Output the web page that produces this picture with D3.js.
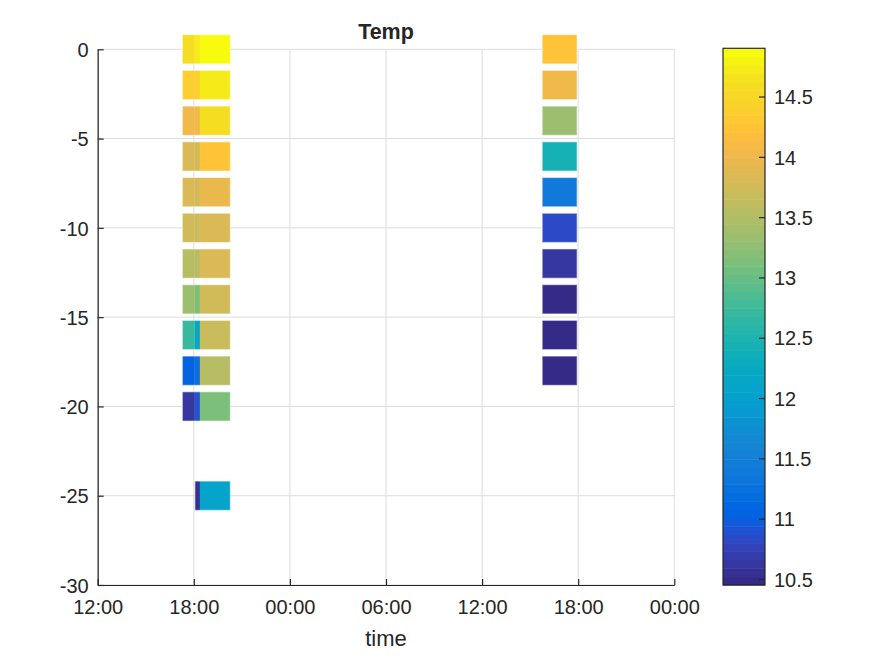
<!DOCTYPE html>
<html><head><meta charset="utf-8">
<script src="https://cdn.jsdelivr.net/npm/d3@7"></script>
<style>
body{margin:0;background:#fff}
text{font-family:"Liberation Sans",Arial,Helvetica,sans-serif;fill:#262626}
</style>
</head><body>
<svg id="chart" width="875" height="656"></svg>
<script>
// ---------------- data ----------------
const xTickTimes = ["2020-06-01T12:00","2020-06-01T18:00","2020-06-02T00:00","2020-06-02T06:00","2020-06-02T12:00","2020-06-02T18:00","2020-06-03T00:00"];
const yTicks = [-30,-25,-20,-15,-10,-5,0];
const cbTicks = [10.5,11,11.5,12,12.5,13,13.5,14,14.5];
const colorRange = [10.45, 14.90];
const depths = [0,-2,-4,-6,-8,-10,-12,-14,-16,-18,-20,-25];

const castAStart = "2020-06-01T17:17", castAEnd = "2020-06-01T18:04";
const castATemp = [14.60,14.38,14.00,13.82,13.80,13.72,13.56,13.36,12.70,11.04,10.62,null];
const castBStart = "2020-06-01T18:04", castBEnd = "2020-06-01T18:23";
const castBTemp = [14.70,14.40,14.02,13.78,13.76,13.70,13.55,13.15,12.15,11.22,10.90,10.55];
const castCStart = "2020-06-01T18:23", castCEnd = "2020-06-01T20:17";
const castCTemp = [14.88,14.75,14.60,14.22,13.95,13.85,13.80,13.78,13.70,13.55,13.15,12.10];
const castDStart = "2020-06-02T15:45", castDEnd = "2020-06-02T17:56";
const castDTemp = [14.25,14.05,13.32,12.43,11.39,10.83,10.62,10.48,10.47,10.50,null,null];

// parula (64)
const parula = [[0.2081,0.1663,0.5292],[0.2116,0.1898,0.5777],[0.2123,0.2138,0.6270],[0.2081,0.2386,0.6771],[0.1959,0.2645,0.7279],[0.1707,0.2919,0.7792],[0.1253,0.3242,0.8303],[0.0591,0.3598,0.8683],[0.0117,0.3875,0.8820],[0.0060,0.4086,0.8828],[0.0165,0.4266,0.8786],[0.0329,0.4430,0.8720],[0.0498,0.4586,0.8641],[0.0629,0.4737,0.8554],[0.0723,0.4887,0.8467],[0.0779,0.5040,0.8384],[0.0793,0.5200,0.8312],[0.0749,0.5375,0.8263],[0.0641,0.5570,0.8240],[0.0488,0.5772,0.8228],[0.0343,0.5966,0.8199],[0.0265,0.6137,0.8135],[0.0239,0.6287,0.8038],[0.0231,0.6418,0.7913],[0.0228,0.6535,0.7768],[0.0267,0.6642,0.7607],[0.0384,0.6743,0.7436],[0.0590,0.6838,0.7254],[0.0843,0.6928,0.7062],[0.1133,0.7015,0.6859],[0.1453,0.7098,0.6646],[0.1801,0.7177,0.6424],[0.2178,0.7250,0.6193],[0.2586,0.7317,0.5954],[0.3022,0.7376,0.5712],[0.3482,0.7424,0.5473],[0.3953,0.7459,0.5244],[0.4420,0.7481,0.5033],[0.4871,0.7491,0.4840],[0.5300,0.7491,0.4661],[0.5709,0.7485,0.4494],[0.6099,0.7473,0.4337],[0.6473,0.7456,0.4188],[0.6834,0.7435,0.4044],[0.7184,0.7411,0.3905],[0.7525,0.7384,0.3768],[0.7858,0.7356,0.3633],[0.8185,0.7327,0.3498],[0.8507,0.7299,0.3360],[0.8824,0.7274,0.3217],[0.9139,0.7258,0.3063],[0.9450,0.7261,0.2886],[0.9739,0.7314,0.2666],[0.9938,0.7455,0.2403],[0.9990,0.7653,0.2164],[0.9955,0.7861,0.1967],[0.9880,0.8066,0.1794],[0.9789,0.8271,0.1633],[0.9697,0.8481,0.1475],[0.9626,0.8705,0.1309],[0.9589,0.8949,0.1132],[0.9598,0.9218,0.0948],[0.9661,0.9514,0.0755],[0.9763,0.9831,0.0538]];

// ---------------- build ----------------
const parse = d3.utcParse("%Y-%m-%dT%H:%M");
const casts = [
  {group:0, start:castAStart, end:castAEnd, temp:castATemp},
  {group:0, start:castBStart, end:castBEnd, temp:castBTemp},
  {group:0, start:castCStart, end:castCEnd, temp:castCTemp},
  {group:1, start:castDStart, end:castDEnd, temp:castDTemp}
].map(c => ({...c, t0:parse(c.start), t1:parse(c.end)}));

const cmap = parula.map(c => d3.rgb(c[0]*255, c[1]*255, c[2]*255).formatHex());
const colorOf = v => {
  let i = Math.floor((v - colorRange[0]) / (colorRange[1] - colorRange[0]) * cmap.length);
  i = Math.max(0, Math.min(cmap.length - 1, i));
  return cmap[i];
};

const svg = d3.select("#chart");
const L = 97.7, R = 674.3, T = 49.3, B = 585;
const xTimes = xTickTimes.map(parse);
const x = d3.scaleUtc().domain([xTimes[0], xTimes[xTimes.length-1]]).range([L, R]);
const y = d3.scaleLinear().domain([-30, 0]).range([B, T]);
const halfH = 0.82;
const axisColor = "#262626";
const gridColor = "#dcdcdc";

// grid
const grid = svg.append("g");
grid.selectAll(".gx").data(xTimes).join("line")
  .attr("x1", d => x(d)).attr("x2", d => x(d)).attr("y1", y(-30)).attr("y2", y(0))
  .attr("stroke", gridColor).attr("stroke-width", 1);
grid.selectAll(".gy").data(yTicks).join("line")
  .attr("x1", L).attr("x2", R).attr("y1", d => y(d)).attr("y2", d => y(d))
  .attr("stroke", gridColor).attr("stroke-width", 1);

// cells
const cells = [];
casts.forEach(c => c.temp.forEach((v, k) => { if (v !== null) cells.push({c, d:depths[k], v}); }));
svg.append("g").selectAll("rect").data(cells).join("rect")
  .attr("x", d => x(d.c.t0)).attr("width", d => x(d.c.t1) - x(d.c.t0))
  .attr("y", d => y(d.d + halfH)).attr("height", d => y(d.d - halfH) - y(d.d + halfH))
  .attr("fill", d => colorOf(d.v));

// row outlines per group
const outlines = [];
[0,1].forEach(g => {
  depths.forEach((dep, k) => {
    const cs = casts.filter(c => c.group === g && c.temp[k] !== null);
    if (cs.length) outlines.push({d:dep, t0:d3.min(cs, c => c.t0), t1:d3.max(cs, c => c.t1)});
  });
});
svg.append("g").selectAll("rect").data(outlines).join("rect")
  .attr("x", d => x(d.t0)).attr("width", d => x(d.t1) - x(d.t0))
  .attr("y", d => y(d.d + halfH)).attr("height", d => y(d.d - halfH) - y(d.d + halfH))
  .attr("fill", "none").attr("stroke", "#ffffff").attr("stroke-opacity", 0.5).attr("stroke-width", 1.2);

// axes
const fs = 20;
const xAxis = d3.axisBottom(x).tickValues(xTimes).tickFormat(d3.utcFormat("%H:%M"))
  .tickSizeInner(-6).tickSizeOuter(0).tickPadding(15);
const gx = svg.append("g").attr("transform", `translate(0,${B})`).call(xAxis);
const yAxis = d3.axisLeft(y).tickValues(yTicks).tickFormat(d3.format("d"))
  .tickSizeInner(-6).tickSizeOuter(0).tickPadding(9);
const gy = svg.append("g").attr("transform", `translate(${L},0)`).call(yAxis);
[gx, gy].forEach(g => {
  g.select(".domain").attr("stroke", axisColor).attr("stroke-width", 1.2);
  g.selectAll(".tick line").attr("stroke", axisColor).attr("stroke-width", 1.2);
  g.selectAll(".tick text").attr("fill", axisColor)
    .style("font-family", '"Liberation Sans",Arial,sans-serif').style("font-size", fs + "px");
});
gy.selectAll(".tick text").text(d => d < 0 ? "-" + Math.abs(d) : d).attr("dy", "0.36em");

// title & label
svg.append("text").attr("x", (L + R) / 2).attr("y", 39).attr("text-anchor", "middle")
  .style("font-size", "21.5px").style("font-weight", "bold").attr("fill", "#000").text("Temp");
svg.append("text").attr("x", (L + R) / 2).attr("y", 646).attr("text-anchor", "middle")
  .style("font-size", "22px").text("time");

// colorbar
const cbL = 723, cbR = 765, cbT = 48.3, cbB = 585;
const cb = d3.scaleLinear().domain(colorRange).range([cbB, cbT]);
const bandH = (colorRange[1] - colorRange[0]) / cmap.length;
svg.append("g").selectAll("rect").data(cmap).join("rect")
  .attr("x", cbL).attr("width", cbR - cbL)
  .attr("y", (d, i) => cb(colorRange[0] + (i + 1) * bandH))
  .attr("height", (d, i) => cb(colorRange[0] + i * bandH) - cb(colorRange[0] + (i + 1) * bandH) + 0.5)
  .attr("fill", d => d);
svg.append("rect").attr("x", cbL).attr("y", cbT).attr("width", cbR - cbL).attr("height", cbB - cbT)
  .attr("fill", "none").attr("stroke", axisColor).attr("stroke-width", 1.2);
const cbAxis = d3.axisRight(cb).tickValues(cbTicks).tickFormat(d3.format("~g"))
  .tickSizeInner(-6).tickSizeOuter(0).tickPadding(9);
const gcb = svg.append("g").attr("transform", `translate(${cbR},0)`).call(cbAxis);
gcb.select(".domain").remove();
gcb.selectAll(".tick line").attr("stroke", axisColor).attr("stroke-width", 1.2);
gcb.selectAll(".tick text").attr("fill", axisColor).attr("dy", "0.36em")
  .style("font-family", '"Liberation Sans",Arial,sans-serif').style("font-size", fs + "px");
</script>
</body></html>
